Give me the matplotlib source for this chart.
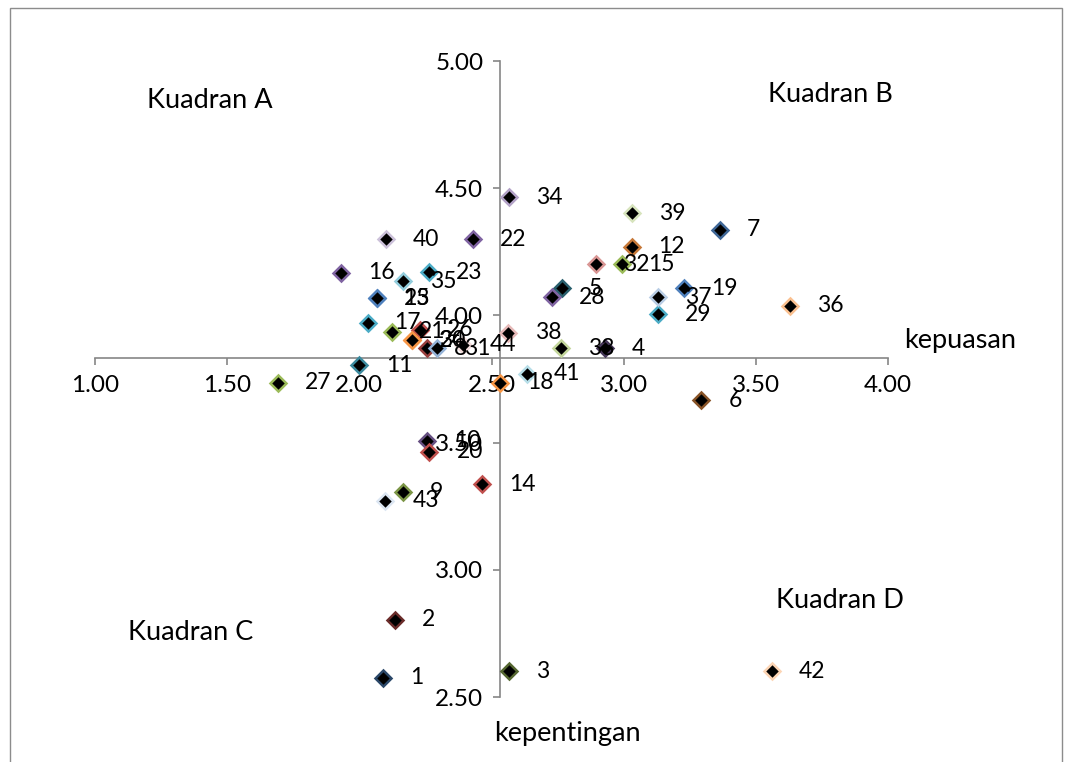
import matplotlib
matplotlib.use('Agg')
import matplotlib.pyplot as plt
from matplotlib.patches import Rectangle
from matplotlib.colors import to_rgb

# nomor responden / atribut
labels = [str(i) for i in range(1, 45)]

# kepuasan (x) dan kepentingan (y)
kepuasan = [2.089, 2.135, 2.566, 2.929, 2.765, 3.294, 3.364, 2.255, 2.164, 2.255,
            2.000, 3.030, 2.065, 2.465, 2.992, 1.930, 2.031, 2.532, 3.228, 2.265,
            2.122, 2.431, 2.263, 2.198, 2.065, 2.229, 1.693, 2.727, 3.131, 2.198,
            2.292, 2.897, 2.762, 2.566, 2.166, 3.629, 3.131, 2.563, 3.030, 2.099,
            2.633, 3.560, 2.098, 2.393]
kepentingan = [2.575, 2.803, 2.602, 3.871, 4.107, 3.667, 4.336, 3.871, 3.305, 3.507,
               3.805, 4.270, 4.067, 3.336, 4.202, 4.168, 3.971, 3.735, 4.107, 3.464,
               3.936, 4.299, 4.169, 3.903, 4.067, 3.943, 3.735, 4.071, 4.005, 3.903,
               3.871, 4.202, 3.871, 4.465, 4.135, 4.037, 4.071, 3.932, 4.401, 4.299,
               3.770, 2.602, 3.272, 3.884]

x_cross = 2.532   # posisi sumbu vertikal
y_cross = 3.831   # posisi sumbu horizontal

# excel 2007 accent colours, shaded per cycle
accents = ['#4F81BD', '#C0504D', '#9BBB59', '#8064A2', '#4BACC6', '#F79646']
shades = [-0.45, -0.2, 0.0, 0.0, 0.0, 0.4, 0.6, 0.8]


def shade(c, f):
    r, g, b = to_rgb(c)
    if f < 0:
        return (r * (1 + f), g * (1 + f), b * (1 + f))
    return (r + (1 - r) * f, g + (1 - g) * f, b + (1 - b) * f)


plt.rcParams['font.family'] = ['Lato', 'DejaVu Sans']

fig = plt.figure(figsize=(10.67, 7.62), dpi=100)
W, H = 1067, 762
ax = fig.add_axes([95 / W, 1 - 697 / H, 793 / W, 636 / H])

for i, lab in enumerate(labels):
    col = shade(accents[i % 6], shades[i // 6])
    ax.plot(kepuasan[i], kepentingan[i], marker='D', ms=8.5, mfc='black',
            mec=col, mew=1.8, ls='none', clip_on=False, zorder=3)
    ax.annotate(lab, (kepuasan[i], kepentingan[i]), xytext=(27, 0),
                textcoords='offset pixels', ha='left', va='center',
                fontsize=16.5, zorder=4)

ax.set_xlim(1, 4)
ax.set_ylim(2.5, 5)
ax.set_xticks([1.0, 1.5, 2.0, 2.5, 3.0, 3.5, 4.0])
ax.set_yticks([2.5, 3.0, 3.5, 4.0, 4.5, 5.0])
ax.set_xticklabels(['%.2f' % v for v in ax.get_xticks()])
ax.set_yticklabels(['%.2f' % v for v in ax.get_yticks()])

for s in ['top', 'right']:
    ax.spines[s].set_visible(False)
ax.spines['left'].set_position(('data', x_cross))
ax.spines['bottom'].set_position(('data', y_cross))
for s in ['left', 'bottom']:
    ax.spines[s].set_color('#868686')
    ax.spines[s].set_linewidth(1.2)
ax.tick_params(direction='out', length=5, width=1.2, color='#868686',
               labelsize=17.5, pad=7)
ax.patch.set_visible(False)

big = 19.5
fig.text(210 / W, 1 - 100 / H, 'Kuadran A', fontsize=big, ha='center', va='center')
fig.text(830 / W, 1 - 95 / H, 'Kuadran B', fontsize=big, ha='center', va='center')
fig.text(191 / W, 1 - 633 / H, 'Kuadran C', fontsize=big, ha='center', va='center')
fig.text(840 / W, 1 - 600 / H, 'Kuadran D', fontsize=big, ha='center', va='center')
fig.text(960 / W, 1 - 341 / H, 'kepuasan', fontsize=big, ha='center', va='center')
fig.text(567 / W, 1 - 733 / H, 'kepentingan', fontsize=big, ha='center', va='center')

# chart border
fig.add_artist(Rectangle((10 / W, -0.05), 1052 / W, 1.05 - 8 / H,
                         transform=fig.transFigure, fill=False,
                         ec='#8c8c8c', lw=1.0))

fig.savefig('out.png', dpi=100)
